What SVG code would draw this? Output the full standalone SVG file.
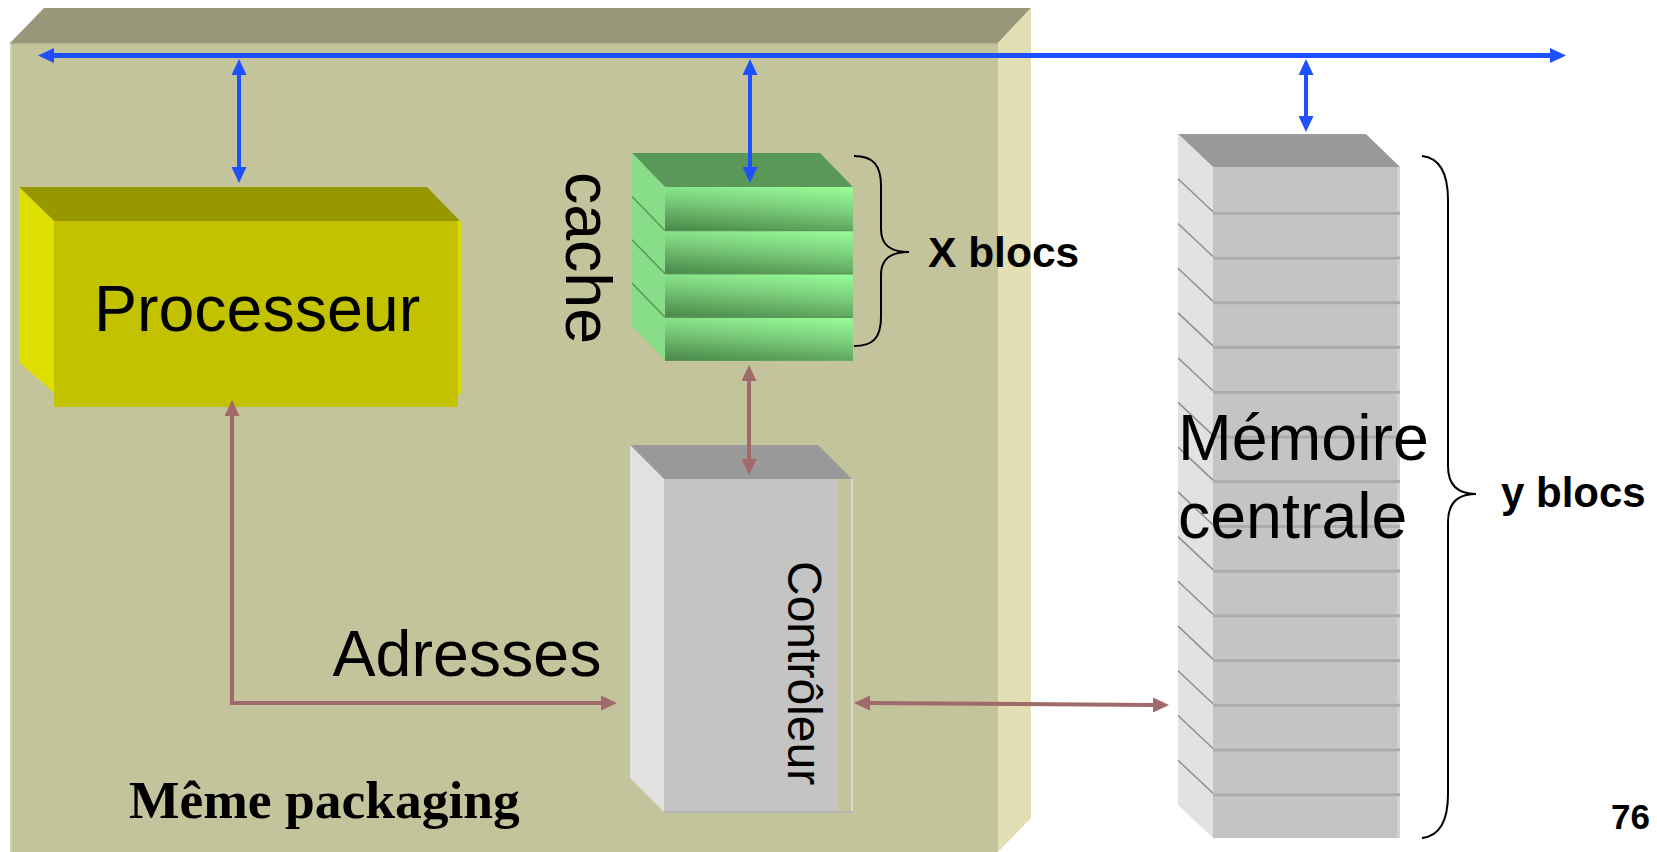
<svg xmlns="http://www.w3.org/2000/svg" xmlns:xlink="http://www.w3.org/1999/xlink" width="1657" height="852" viewBox="0 0 1657 852">
  <style>
    .sans { font-family: "Liberation Sans", Arial, sans-serif; fill: #000; }
    .big { font-size: 64.5px; }
    .bold { font-weight: bold; }
    .serif { font-family: "Liberation Serif", "Times New Roman", serif; font-weight: bold; fill: #000; }
    .bus { stroke: #1E50FF; stroke-width: 5; fill: none; }
    .busv { stroke: #1E50FF; stroke-width: 4; fill: none; }
    .ctl { stroke: #A06A6A; stroke-width: 4; fill: none; }
    .brace { stroke: #000; stroke-width: 2; fill: none; }
  </style>
  <defs>
    <marker id="ahBlue" markerUnits="userSpaceOnUse" viewBox="0 0 16 15" markerWidth="16" markerHeight="15" refX="1" refY="7.5" orient="auto-start-reverse">
      <path d="M0,0 L16,7.5 L0,15 Z" fill="#1E50FF"/>
    </marker>
    <marker id="ahBrown" markerUnits="userSpaceOnUse" viewBox="0 0 16 15" markerWidth="16" markerHeight="15" refX="1" refY="7.5" orient="auto-start-reverse">
      <path d="M0,0 L16,7.5 L0,15 Z" fill="#A06A6A"/>
    </marker>
    <linearGradient id="cacheFront" x1="0.05" y1="1" x2="0.45" y2="-0.2">
      <stop offset="0" stop-color="#4A884A"/>
      <stop offset="0.55" stop-color="#7CCF7C"/>
      <stop offset="1" stop-color="#9AFF9A"/>
    </linearGradient>
    <!-- one slab of the cache stack: front face + side edge line -->
    <g id="cacheBlock">
      <rect x="0" y="0" width="188" height="43.4" fill="url(#cacheFront)"/>
      <line x1="0" y1="0" x2="188" y2="0" stroke="#5A985A" stroke-width="1.5"/>
      <line x1="-33" y1="-34" x2="0" y2="0" stroke="#5A985A" stroke-width="1.5"/>
    </g>
    <!-- one slab of the main memory stack -->
    <g id="memBlock">
      <rect x="0" y="0" width="187" height="44.8" fill="#C4C4C4"/>
      <rect x="0" y="0" width="187" height="3" fill="#ABABAB"/>
      <rect x="184" y="3" width="3" height="41.8" fill="#D3D3D3"/>
      <line x1="-35" y1="-33" x2="0" y2="0" stroke="#8F8F8F" stroke-width="1.5"/>
    </g>
  </defs>

  <!-- shared package box -->
  <g id="package">
    <rect x="10" y="43" width="988" height="809" fill="#C3C49C"/>
    <polygon points="10,43 44,8 1031,8 998,43" fill="#99977A"/>
    <polygon points="998,43 1031,8 1031,818 998,852" fill="#E1DFB3"/>
    <line x1="11" y1="43" x2="11" y2="852" stroke="#D4D5B8" stroke-width="2"/>
    <line x1="10" y1="43.5" x2="998" y2="43.5" stroke="#B0B08C" stroke-width="1.5"/>
    <text class="serif" x="129" y="818" font-size="53.5">Même packaging</text>
  </g>

  <!-- processor -->
  <g id="processeur">
    <polygon points="19,187 427,187 460,221 54,221" fill="#979700"/>
    <polygon points="19,187 54,221 54,393 19,362" fill="#DEDE00"/>
    <rect x="54" y="221" width="404" height="186" fill="#C2C200"/>
    <rect x="458" y="221" width="3" height="173" fill="#DADA00"/>
    <text class="sans big" x="257" y="331" text-anchor="middle">Processeur</text>
  </g>

  <!-- cache -->
  <g id="cache">
    <polygon points="632,153 820,153 853,187 665,187" fill="#5A985A"/>
    <polygon points="632,153 665,187 665,360 632,326" fill="#88DD88"/>
    <rect x="665" y="187" width="188" height="173.6" fill="url(#cacheFront)"/>
    <use xlink:href="#cacheBlock" x="665" y="230.4"/>
    <use xlink:href="#cacheBlock" x="665" y="273.8"/>
    <use xlink:href="#cacheBlock" x="665" y="317.2"/>
    <rect x="665" y="187" width="188" height="43.4" fill="url(#cacheFront)"/>
    <text class="sans big" transform="translate(566,172) rotate(90)">cache</text>
    <path class="brace" d="M854,156 C873,156 881,165 881,186 L881,229 C881,245 890,252 909,252 C890,252 881,259 881,275 L881,317 C881,338 873,346 854,346"/>
    <text class="sans bold" x="928" y="267" font-size="42.5">X blocs</text>
  </g>

  <!-- controller -->
  <g id="controleur">
    <polygon points="630,445 818,445 852,479 664,479" fill="#999999"/>
    <polygon points="630,445 664,479 664,812 630,778" fill="#E1E1E1"/>
    <rect x="664" y="479" width="174" height="333" fill="#C4C4C4"/>
    <line x1="852" y1="479" x2="852" y2="812" stroke="#D9D9D9" stroke-width="2"/>
    <line x1="664" y1="812" x2="853" y2="812" stroke="#B5B5B5" stroke-width="2"/>
    <text class="sans" font-size="48" transform="translate(788,561) rotate(90)">Contrôleur</text>
  </g>

  <!-- main memory -->
  <g id="memoire">
    <polygon points="1178,134 1366,134 1400,167 1213,167" fill="#999999"/>
    <polygon points="1178,134 1213,167 1213,838 1178,805" fill="#E2E2E2"/>
    <rect x="1213" y="167" width="187" height="44.8" fill="#C4C4C4"/>
    <rect x="1397" y="167" width="3" height="44.8" fill="#D3D3D3"/>
    <use xlink:href="#memBlock" x="1213" y="211.7"/>
    <use xlink:href="#memBlock" x="1213" y="256.5"/>
    <use xlink:href="#memBlock" x="1213" y="301.2"/>
    <use xlink:href="#memBlock" x="1213" y="345.9"/>
    <use xlink:href="#memBlock" x="1213" y="390.7"/>
    <use xlink:href="#memBlock" x="1213" y="435.4"/>
    <use xlink:href="#memBlock" x="1213" y="480.1"/>
    <use xlink:href="#memBlock" x="1213" y="524.9"/>
    <use xlink:href="#memBlock" x="1213" y="569.6"/>
    <use xlink:href="#memBlock" x="1213" y="614.3"/>
    <use xlink:href="#memBlock" x="1213" y="659.1"/>
    <use xlink:href="#memBlock" x="1213" y="703.8"/>
    <use xlink:href="#memBlock" x="1213" y="748.5"/>
    <use xlink:href="#memBlock" x="1213" y="793.3"/>
    <text class="sans big" x="1178" y="460">Mémoire</text>
    <text class="sans big" x="1178" y="538">centrale</text>
    <path class="brace" d="M1422,156 C1440,158 1448,174 1448,200 L1448,466 C1448,485 1457,494 1476,494 C1457,494 1448,503 1448,522 L1448,794 C1448,820 1440,836 1422,838"/>
    <text class="sans bold" x="1501" y="507" font-size="42">y blocs</text>
  </g>

  <!-- connectors -->
  <g id="connectors">
    <line class="bus" x1="53" y1="55.5" x2="1551" y2="55.5" marker-start="url(#ahBlue)" marker-end="url(#ahBlue)"/>
    <line class="busv" x1="239" y1="74" x2="239" y2="168" marker-start="url(#ahBlue)" marker-end="url(#ahBlue)"/>
    <line class="busv" x1="750" y1="74" x2="750" y2="168" marker-start="url(#ahBlue)" marker-end="url(#ahBlue)"/>
    <line class="busv" x1="1306" y1="74" x2="1306" y2="117" marker-start="url(#ahBlue)" marker-end="url(#ahBlue)"/>
    <path class="ctl" d="M232,415 L232,703 L602,703" marker-start="url(#ahBrown)" marker-end="url(#ahBrown)"/>
    <line class="ctl" x1="749" y1="380" x2="749" y2="460" marker-start="url(#ahBrown)" marker-end="url(#ahBrown)"/>
    <line class="ctl" x1="869" y1="703" x2="1154" y2="705" marker-start="url(#ahBrown)" marker-end="url(#ahBrown)"/>
  </g>

  <!-- labels -->
  <g id="labels">
    <text class="sans big" x="467" y="676" text-anchor="middle">Adresses</text>
    <text class="sans bold" x="1611" y="829" font-size="35">76</text>
  </g>
</svg>
